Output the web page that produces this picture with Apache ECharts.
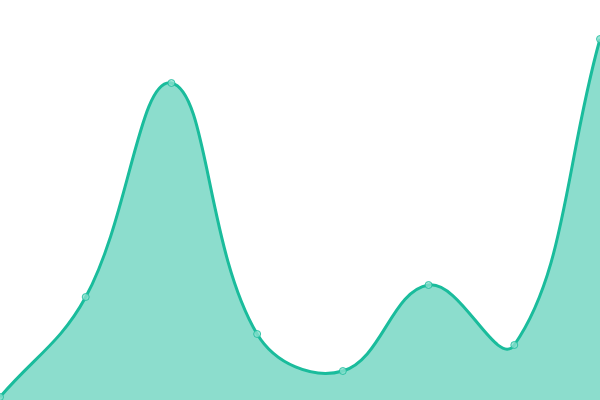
<!DOCTYPE html>
<html><head><meta charset="utf-8">
<script src="https://cdn.jsdelivr.net/npm/echarts@6/dist/echarts.min.js"></script>
<style>html,body{margin:0;padding:0;background:#fff}#c{width:600px;height:400px}</style>
</head><body><div id="c"></div>
<script>
const categories = ['A','B','C','D','E','F','G','H'];
const values = [3, 103, 317, 66, 29, 115, 55, 361];
const tension = 0.4;

function splinePath(pts) {
  const n = pts.length;
  const cps = pts.map((p, i) => {
    const prev = pts[Math.max(0, i - 1)];
    const next = pts[Math.min(n - 1, i + 1)];
    const d01 = Math.hypot(p[0] - prev[0], p[1] - prev[1]);
    const d12 = Math.hypot(next[0] - p[0], next[1] - p[1]);
    let s01 = d01 / (d01 + d12), s12 = d12 / (d01 + d12);
    if (isNaN(s01)) s01 = 0;
    if (isNaN(s12)) s12 = 0;
    const fa = tension * s01, fb = tension * s12;
    return {
      prev: [p[0] - fa * (next[0] - prev[0]), p[1] - fa * (next[1] - prev[1])],
      next: [p[0] + fb * (next[0] - prev[0]), p[1] + fb * (next[1] - prev[1])]
    };
  });
  let d = 'M' + pts[0][0] + ' ' + pts[0][1];
  for (let i = 1; i < n; i++) {
    const c1 = cps[i - 1].next, c2 = cps[i].prev, p = pts[i];
    d += ' C' + c1[0] + ' ' + c1[1] + ' ' + c2[0] + ' ' + c2[1] + ' ' + p[0] + ' ' + p[1];
  }
  return d;
}

const chart = echarts.init(document.getElementById('c'));
chart.setOption({
  animation: false,
  grid: {left: 0, right: 0, top: 0, bottom: 0},
  xAxis: {type: 'category', data: categories, boundaryGap: false, show: false},
  yAxis: {type: 'value', min: 0, max: 400, show: false},
  series: [{
    type: 'custom',
    data: values.map((v, i) => [i, v]),
    encode: {x: 0, y: 1},
    renderItem: function (params, api) {
      if (params.dataIndex !== 0) return null;
      const pts = values.map((v, i) => api.coord([i, v]));
      const base = api.coord([0, 0])[1];
      const line = splinePath(pts);
      const area = line + ' L' + pts[pts.length - 1][0] + ' ' + base + ' L' + pts[0][0] + ' ' + base + ' Z';
      return {
        type: 'group',
        children: [
          {type: 'path', shape: {pathData: area}, style: {fill: 'rgba(26,188,156,0.5)', stroke: null}},
          {type: 'path', shape: {pathData: line}, style: {fill: null, stroke: '#1abc9c', lineWidth: 3}}
        ]
      };
    }
  }, {
    type: 'scatter',
    data: values,
    symbol: 'circle',
    symbolSize: 7,
    itemStyle: {color: '#8ae0ce', borderColor: '#1abc9c', borderWidth: 1}
  }]
});
</script></body></html>
